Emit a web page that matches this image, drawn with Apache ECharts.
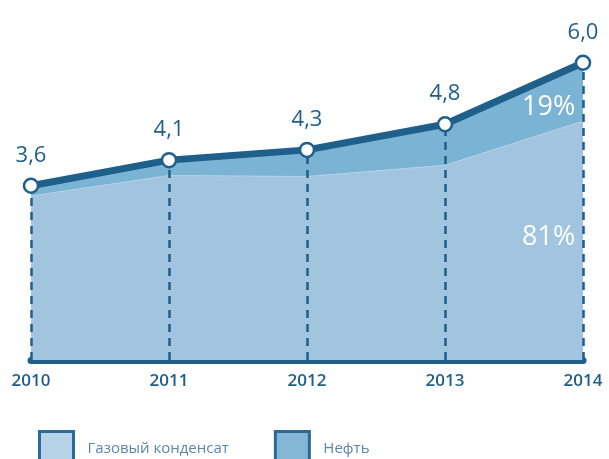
<!DOCTYPE html>
<html>
<head>
<meta charset="utf-8">
<script src="https://cdn.jsdelivr.net/npm/echarts@6/dist/echarts.min.js"></script>
<style>
  html, body { margin: 0; padding: 0; background: #fff; }
  #chart { width: 609px; height: 459px; }
</style>
</head>
<body>
<div id="chart"></div>
<script>
// данные
var years = ["2010", "2011", "2012", "2013", "2014"];
var total = [3.6, 4.1, 4.3, 4.8, 6.0];
var condensate = [3.4, 3.8, 3.78, 4.0, 4.86];
var oil = [0.2, 0.3, 0.52, 0.8, 1.14];
var seriesNames = ["Газовый конденсат", "Нефть"];
var shareLabels = ["81%", "19%"];

var dark = "#1f5f8b";
var yMin = 0.2, yMax = 7;

// пунктирные линии от точки до оси
var dropLines = total.map(function (v, i) {
    return [{ coord: [i, yMin] }, { coord: [i, v] }];
});

var option = {
    animation: false,
    grid: { left: 31, right: 26, top: 11.5, bottom: 99 },
    legend: {
        left: 33,
        top: 425,
        itemWidth: 34,
        itemHeight: 34,
        itemGap: 45,
        icon: "rect",
        textStyle: {
            color: "#5b87a8",
            fontSize: 15,
            fontFamily: "Open Sans",
            padding: [0, 0, 0, 9]
        },
        data: [
            { name: seriesNames[0], itemStyle: { color: "#b6d3e8", borderColor: "#2a6a97", borderWidth: 3 } },
            { name: seriesNames[1], itemStyle: { color: "#86b6d7", borderColor: "#2a6a97", borderWidth: 3 } }
        ]
    },
    xAxis: {
        type: "category",
        data: years,
        boundaryGap: false,
        axisLine: { lineStyle: { color: dark, width: 7 } },
        axisTick: { show: false },
        axisLabel: {
            color: dark,
            fontSize: 17,
            fontWeight: 600,
            fontFamily: "Open Sans",
            margin: 13
        },
        splitLine: { show: false }
    },
    yAxis: {
        type: "value",
        min: yMin,
        max: yMax,
        show: false,
        splitLine: { show: false }
    },
    series: [{
        name: seriesNames[0],
        type: "line",
        stack: "total",
        data: condensate,
        symbol: "none",
        lineStyle: { color: "#b3d1e6", width: 1 },
        itemStyle: { color: "#a1c5df" },
        areaStyle: { color: "#a1c5df", opacity: 1 },
        z: 1
    }, {
        name: seriesNames[1],
        type: "line",
        stack: "total",
        data: oil,
        symbol: "none",
        lineStyle: { width: 0 },
        itemStyle: { color: "#7bb3d5" },
        areaStyle: { color: "#7bb3d5", opacity: 1 },
        z: 1
    }, {
        name: "Пунктир",
        type: "line",
        data: total,
        symbol: "none",
        lineStyle: { width: 0 },
        silent: true,
        markLine: {
            silent: true,
            symbol: "none",
            z: 2,
            label: { show: false },
            lineStyle: { color: dark, width: 2.5, type: [8, 6] },
            data: dropLines
        },
        z: 2
    }, {
        name: "Итого",
        type: "line",
        data: total,
        symbol: "circle",
        symbolSize: 14,
        lineStyle: { color: dark, width: 7 },
        itemStyle: { color: "#fff", borderColor: dark, borderWidth: 2.5 },
        label: {
            show: true,
            position: "top",
            distance: 11,
            color: dark,
            fontSize: 22,
            fontFamily: "Open Sans",
            formatter: function (p) { return p.value.toFixed(1).replace(".", ","); }
        },
        z: 3
    }],
    graphic: [{
        type: "text",
        left: 522, top: 94,
        z: 100,
        style: { text: shareLabels[1], fill: "#fff", fontSize: 27, fontFamily: "Open Sans" }
    }, {
        type: "text",
        left: 522, top: 224,
        z: 100,
        style: { text: shareLabels[0], fill: "#fff", fontSize: 27, fontFamily: "Open Sans" }
    }]
};

var chart = echarts.init(document.getElementById("chart"));
chart.setOption(option);
</script>
</body>
</html>
